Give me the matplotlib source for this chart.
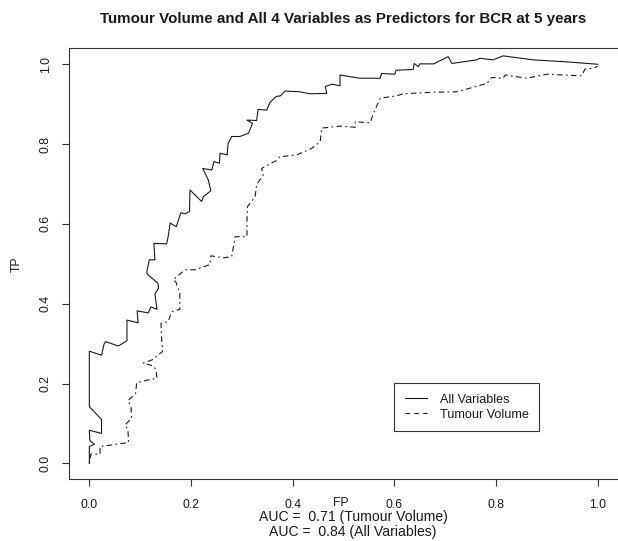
import numpy as np
import matplotlib.pyplot as plt
from matplotlib.lines import Line2D

plt.rcParams['font.family'] = ['Liberation Sans', 'DejaVu Sans']

# ROC curve, all 4 variables
FP_ALL = [0.000, 0.000, 0.010, 0.001, 0.000, 0.024, 0.024, 0.000, 0.000, 0.024,
          0.029, 0.032, 0.057, 0.074, 0.074, 0.096, 0.094, 0.116, 0.121, 0.133,
          0.129, 0.136, 0.135, 0.114, 0.113, 0.118, 0.129, 0.127, 0.152, 0.155,
          0.159, 0.171, 0.180, 0.188, 0.197, 0.198, 0.221, 0.224, 0.239, 0.234,
          0.223, 0.241, 0.245, 0.256, 0.257, 0.271, 0.273, 0.280, 0.296, 0.313,
          0.321, 0.310, 0.329, 0.332, 0.349, 0.355, 0.367, 0.376, 0.385, 0.414,
          0.434, 0.467, 0.464, 0.477, 0.493, 0.493, 0.532, 0.572, 0.575, 0.601,
          0.603, 0.637, 0.639, 0.647, 0.650, 0.677, 0.706, 0.713, 0.762, 0.768,
          0.794, 0.814, 0.873, 0.939, 1.000]
TP_ALL = [0.000, 0.042, 0.048, 0.057, 0.083, 0.075, 0.110, 0.142, 0.281, 0.271,
          0.299, 0.305, 0.294, 0.307, 0.359, 0.352, 0.382, 0.377, 0.392, 0.386,
          0.424, 0.439, 0.451, 0.474, 0.480, 0.510, 0.510, 0.551, 0.550, 0.568,
          0.602, 0.593, 0.628, 0.625, 0.631, 0.685, 0.656, 0.668, 0.683, 0.710,
          0.739, 0.735, 0.756, 0.752, 0.777, 0.773, 0.802, 0.819, 0.819, 0.827,
          0.852, 0.860, 0.859, 0.887, 0.885, 0.904, 0.919, 0.921, 0.933, 0.931,
          0.926, 0.927, 0.944, 0.950, 0.946, 0.973, 0.965, 0.965, 0.977, 0.975,
          0.985, 0.987, 1.002, 0.994, 1.001, 1.001, 1.019, 1.002, 1.011, 1.015,
          1.011, 1.021, 1.011, 1.006, 1.000]

# ROC curve, tumour volume alone
FP_TV = [0.000, 0.003, 0.021, 0.021, 0.077, 0.076, 0.070, 0.083, 0.082, 0.076,
         0.091, 0.093, 0.116, 0.133, 0.131, 0.126, 0.106, 0.123, 0.144, 0.142,
         0.141, 0.155, 0.162, 0.178, 0.178, 0.170, 0.165, 0.188, 0.208, 0.237,
         0.239, 0.264, 0.280, 0.287, 0.310, 0.310, 0.311, 0.326, 0.329, 0.342,
         0.339, 0.359, 0.370, 0.374, 0.408, 0.437, 0.454, 0.457, 0.493, 0.523,
         0.523, 0.552, 0.559, 0.572, 0.605, 0.617, 0.677, 0.723, 0.782, 0.791,
         0.814, 0.818, 0.860, 0.900, 0.968, 0.975, 0.991, 1.000]
TP_TV = [0.000, 0.023, 0.023, 0.042, 0.052, 0.085, 0.096, 0.113, 0.142, 0.157,
         0.175, 0.202, 0.209, 0.213, 0.234, 0.244, 0.251, 0.259, 0.280, 0.317,
         0.351, 0.355, 0.380, 0.386, 0.426, 0.455, 0.460, 0.485, 0.485, 0.498,
         0.520, 0.515, 0.518, 0.568, 0.568, 0.610, 0.643, 0.668, 0.698, 0.723,
         0.739, 0.753, 0.760, 0.768, 0.773, 0.789, 0.806, 0.840, 0.845, 0.842,
         0.856, 0.853, 0.877, 0.915, 0.921, 0.926, 0.930, 0.931, 0.952, 0.967,
         0.965, 0.973, 0.965, 0.975, 0.971, 0.988, 0.990, 0.995]

AUC_TV = 0.71
AUC_ALL = 0.84
TICKS = [0.0, 0.2, 0.4, 0.6, 0.8, 1.0]
TITLE = "Tumour Volume and All 4 Variables as Predictors for BCR at 5 years"

W, H = 618, 541
fig = plt.figure(figsize=(W / 100, H / 100), dpi=100)
ax = fig.add_axes([69 / W, 1 - 479.3 / H, 549.1 / W, 431 / H])

ink = '#1a1a1a'
ax.plot(FP_ALL, TP_ALL, color=ink, lw=0.8)
ax.plot(FP_TV, TP_TV, color=ink, lw=0.8, linestyle=(0, (1.5, 3, 5, 3)))

ax.set_xlim(-0.04, 1.04)
ax.set_ylim(-0.04, 1.04)
ax.set_xticks(TICKS)
ax.set_yticks(TICKS)
ax.set_xticklabels([f"{t:.1f}" for t in TICKS])
ax.set_yticklabels([f"{t:.1f}" for t in TICKS], rotation=90, va='center')
ax.tick_params(direction='out', length=5, width=0.8, color='#333333',
               labelsize=8.7, labelcolor=ink)
ax.tick_params(axis='x', pad=9)
ax.tick_params(axis='y', pad=7.5)
for side in ax.spines:
    ax.spines[side].set_linewidth(0.8)
    ax.spines[side].set_color('#333333')
ax.spines['right'].set_visible(False)

# legend (the reference uses a plain dashed line here)
handles = [Line2D([], [], color=ink, lw=0.8),
           Line2D([], [], color=ink, lw=0.8, linestyle=(0, (4, 4)))]
leg = ax.legend(handles, ['All Variables', 'Tumour Volume'],
                loc='upper left', bbox_to_anchor=(394 / W, 1 - 383 / H),
                bbox_transform=fig.transFigure, borderaxespad=0,
                fontsize=9.1, frameon=True, fancybox=False, framealpha=1,
                edgecolor='#333333', borderpad=0.85, handlelength=1.8,
                handletextpad=0.95, labelspacing=0.23)
leg.get_frame().set_linewidth(0.8)
for t in leg.get_texts():
    t.set_color(ink)

fig.text(343.5 / W, 1 - 19.5 / H, TITLE, ha='center', va='center',
         fontsize=10.9, fontweight='bold', color=ink)
fig.text(16.5 / W, 1 - 263.8 / H, 'TP', rotation=90, ha='center', va='center',
         fontsize=8.7, color=ink)
fig.text(341 / W, 1 - 503 / H, 'FP', ha='center', va='center',
         fontsize=8.7, color=ink)
fig.text(353 / W, 1 - 517 / H, f"AUC =  {AUC_TV:.2f} (Tumour Volume)",
         ha='center', va='center', fontsize=10.1, color=ink)
fig.text(353 / W, 1 - 532 / H, f"AUC =  {AUC_ALL:.2f} (All Variables)",
         ha='center', va='center', fontsize=10.1, color=ink)

fig.savefig('out.png', dpi=100, facecolor='white')
